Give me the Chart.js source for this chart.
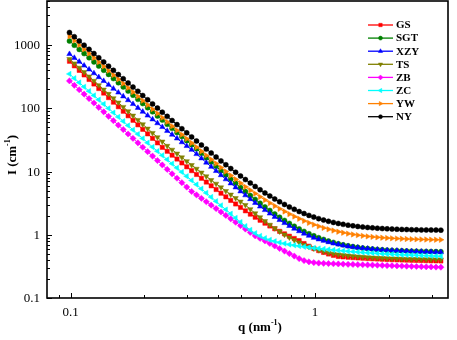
<!DOCTYPE html>
<html><head><meta charset="utf-8">
<script src="https://cdn.jsdelivr.net/npm/chart.js@4.4.1/dist/chart.umd.min.js"></script>
<style>html,body{margin:0;padding:0;background:#fff}#wrap{width:457px;height:340px;position:relative}</style>
</head><body><div id="wrap"><canvas id="c" width="457" height="340"></canvas></div>
<script>
// q (nm^-1)
const q = [0.09886,0.1035,0.1084,0.1135,0.1189,0.1245,0.1303,0.1365,0.1429,0.1496,0.1567,0.1641,0.1718,0.1799,0.1884,0.1972,0.2065,0.2163,0.2265,0.2371,0.2483,0.2600,0.2723,0.2851,0.2985,0.3126,0.3273,0.3428,0.3589,0.3758,0.3936,0.4121,0.4315,0.4519,0.4732,0.4955,0.5188,0.5433,0.5689,0.5957,0.6237,0.6531,0.6839,0.7161,0.7499,0.7852,0.8222,0.8610,0.9016,0.9441,0.9886,1.035,1.084,1.135,1.189,1.245,1.303,1.365,1.429,1.496,1.567,1.641,1.718,1.799,1.884,1.972,2.065,2.163,2.265,2.371,2.483,2.600,2.723,2.851,2.985,3.126,3.273];

const GS = [556.3,471.4,399.4,338.5,286.8,243.1,206.0,174.6,148.0,125.4,106.3,90.11,76.40,64.79,54.95,46.61,39.54,33.56,28.49,24.19,20.98,18.19,15.79,13.71,11.90,10.35,9.000,7.834,6.827,5.955,5.201,4.548,3.984,3.496,3.074,2.709,2.393,2.120,1.894,1.697,1.526,1.377,1.247,1.134,1.035,0.9494,0.8747,0.8095,0.7273,0.6604,0.6060,0.5619,0.5260,0.4968,0.4730,0.4538,0.4473,0.4413,0.4358,0.4307,0.4260,0.4216,0.4176,0.4140,0.4106,0.4074,0.4045,0.4018,0.3994,0.3971,0.3950,0.3931,0.3913,0.3896,0.3881,0.3867,0.3854];
const SGT = [1162,998.2,857.5,736.7,633.0,543.8,467.2,401.4,344.9,296.3,254.6,218.8,188.0,161.6,138.9,119.4,102.6,88.24,75.88,65.25,56.13,48.29,41.56,35.78,30.81,26.54,22.88,19.49,16.61,14.17,12.10,10.34,8.853,7.590,6.519,5.611,4.840,4.187,3.632,3.162,2.763,2.425,2.138,1.895,1.688,1.513,1.365,1.239,1.132,1.041,0.9645,0.8993,0.8440,0.7971,0.7573,0.7236,0.6950,0.6707,0.6501,0.6326,0.6178,0.6052,0.5946,0.5855,0.5779,0.5714,0.5658,0.5612,0.5572,0.5538,0.5510,0.5485,0.5465,0.5447,0.5433,0.5420,0.5409];
const XZY = [724.9,630.0,547.5,475.8,413.5,359.4,312.4,271.5,236.0,205.1,178.3,155.0,134.8,117.2,101.9,88.60,77.06,67.03,58.31,50.73,44.15,38.43,33.46,29.14,25.39,22.13,18.93,16.20,13.88,11.90,10.22,8.779,7.555,6.512,5.623,4.865,4.220,3.670,3.201,2.801,2.461,2.171,1.924,1.713,1.534,1.381,1.251,1.140,1.045,0.9645,0.8958,0.8463,0.8030,0.7651,0.7319,0.7029,0.6776,0.6554,0.6401,0.6263,0.6139,0.6027,0.5926,0.5835,0.5752,0.5697,0.5646,0.5599,0.5555,0.5514,0.5477,0.5442,0.5410,0.5380,0.5352,0.5326,0.5302];
const TS = [603.0,514.4,438.9,374.5,319.5,272.7,232.7,198.6,169.4,144.6,123.4,105.4,89.94,76.78,65.56,55.99,47.82,40.86,34.91,29.84,25.52,22.18,19.28,16.77,14.59,12.70,11.07,9.647,8.417,7.350,6.426,5.624,4.929,4.326,3.804,3.351,2.959,2.538,2.186,1.893,1.647,1.442,1.271,1.128,1.008,0.9080,0.8246,0.7548,0.6965,0.6477,0.6070,0.5730,0.5445,0.5208,0.5009,0.4889,0.4783,0.4690,0.4608,0.4536,0.4472,0.4416,0.4366,0.4323,0.4284,0.4251,0.4221,0.4195,0.4171,0.4151,0.4133,0.4117,0.4103,0.4091,0.4080,0.4071,0.4062];
const ZB = [272.3,231.7,197.2,167.9,142.9,121.6,103.5,88.10,74.99,63.83,54.33,46.24,39.36,33.50,28.51,24.27,20.65,17.58,14.96,12.74,10.84,9.226,7.852,6.683,5.689,4.842,4.276,3.776,3.334,2.944,2.600,2.296,2.028,1.791,1.581,1.396,1.233,1.089,0.9616,0.8770,0.7998,0.7295,0.6653,0.6067,0.5534,0.5047,0.4603,0.4198,0.3908,0.3733,0.3631,0.3573,0.3532,0.3508,0.3483,0.3459,0.3436,0.3412,0.3396,0.3373,0.3357,0.3334,0.3319,0.3296,0.3281,0.3258,0.3243,0.3221,0.3206,0.3184,0.3170,0.3148,0.3133,0.3119,0.3105,0.3083,0.3069];
const ZC = [350.8,299.9,256.4,219.3,187.5,160.3,137.1,117.2,100.2,85.70,73.28,62.66,53.58,45.81,39.17,33.50,28.64,24.49,21.04,18.07,15.52,13.34,11.46,9.840,8.453,7.261,6.237,5.358,4.603,3.954,3.396,2.917,2.506,2.153,1.849,1.589,1.371,1.194,1.059,0.9594,0.8851,0.8318,0.7889,0.7551,0.7261,0.7031,0.6823,0.6637,0.6471,0.6324,0.6194,0.6067,0.5957,0.5848,0.5754,0.5662,0.5572,0.5483,0.5408,0.5333,0.5260,0.5200,0.5140,0.5082,0.5023,0.4977,0.4932,0.4887,0.4842,0.4808,0.4775,0.4742,0.4710,0.4677,0.4645,0.4613,0.4581];
const YW = [1381,1181,1010,863.8,738.7,631.8,540.3,462.1,395.3,338.1,289.2,247.4,211.7,181.1,155.0,132.6,113.5,97.20,83.23,71.29,61.08,52.34,44.88,38.49,33.03,28.36,24.37,20.96,18.04,15.54,13.41,11.58,10.02,8.690,7.550,6.574,5.740,5.066,4.484,3.982,3.549,3.175,2.852,2.574,2.334,2.126,1.947,1.793,1.660,1.544,1.445,1.360,1.286,1.222,1.167,1.119,1.078,1.043,1.012,0.9860,0.9632,0.9436,0.9267,0.9120,0.8994,0.8885,0.8792,0.8711,0.8641,0.8580,0.8528,0.8483,0.8444,0.8411,0.8382,0.8357,0.8336];
const NY = [1586,1361,1167,1001,859.4,737.4,632.7,543.0,466.0,399.9,343.2,294.6,252.9,217.1,186.4,159.7,137.2,117.8,101.2,86.99,74.79,64.32,55.35,47.65,41.04,35.37,30.51,26.34,22.76,19.69,17.02,14.77,12.83,11.17,9.752,8.532,7.485,6.588,5.818,5.157,4.590,4.104,3.687,3.329,3.022,2.755,2.530,2.336,2.170,2.028,1.906,1.802,1.712,1.635,1.569,1.512,1.463,1.422,1.386,1.355,1.329,1.306,1.287,1.270,1.256,1.244,1.233,1.224,1.217,1.210,1.204,1.199,1.195,1.192,1.189,1.186,1.184];

const seriesNames = ['GS','SGT','XZY','TS','ZB','ZC','YW','NY'];
const seriesValues = [GS, SGT, XZY, TS, ZB, ZC, YW, NY];
const xTickLabels = [0.1, 1];
const yTickLabels = [0.1, 1, 10, 100, 1000];

// styles
const colors = ['#FF0000','#008000','#0000FF','#808000','#FF00FF','#00FFFF','#FF8000','#000000'];
const markers = [
  {style:'rect', rot:0, r:3.0},
  {style:'circle', rot:0, r:2.5},
  {style:'triangle', rot:0, r:3.1},
  {style:'triangle', rot:180, r:3.1},
  {style:'rectRot', rot:0, r:3.1},
  {style:'triangle', rot:-90, r:3.1},
  {style:'triangle', rot:90, r:3.1},
  {style:'circle', rot:0, r:2.5}
];
const serif = "'Liberation Serif','Times New Roman',serif";

const datasets = seriesNames.map((name, k) => ({
  label: name,
  data: q.map((x, i) => ({x: x, y: seriesValues[k][i]})),
  showLine: true,
  borderColor: colors[k],
  backgroundColor: colors[k],
  borderWidth: 1,
  pointStyle: markers[k].style,
  pointRotation: markers[k].rot,
  pointRadius: markers[k].r,
  pointBorderWidth: 0.5,
  pointBackgroundColor: colors[k],
  pointBorderColor: colors[k],
  order: 7 - k
}));

function fmt(v) {
  return v < 1 ? v.toFixed(1) : String(Math.round(v));
}

function drawMarker(ctx, m, x, y, color) {
  if (Chart.helpers && Chart.helpers.drawPoint) {
    ctx.fillStyle = color; ctx.strokeStyle = color; ctx.lineWidth = 0.5;
    Chart.helpers.drawPoint(ctx, {pointStyle: m.style, rotation: m.rot, radius: m.r * 0.8, borderWidth: 0.5}, x, y);
  } else {
    ctx.fillStyle = color;
    ctx.beginPath(); ctx.arc(x, y, 2, 0, Math.PI * 2); ctx.fill();
  }
}

const decor = {
  id: 'decor',
  afterDatasetsDraw(chart) {
    const {ctx, chartArea: a, scales} = chart;
    const xs = scales.x, ys = scales.y;
    ctx.save();
    // ticks (inward)
    ctx.strokeStyle = '#000';
    ctx.lineWidth = 1;
    const xMinor = [0.09, 0.2, 0.3, 0.4, 0.5, 0.6, 0.7, 0.8, 0.9, 2, 3];
    xTickLabels.forEach(v => { const p = Math.round(xs.getPixelForValue(v)) + 0.5; ctx.beginPath(); ctx.moveTo(p, a.bottom); ctx.lineTo(p, a.bottom - 5); ctx.stroke(); });
    xMinor.forEach(v => { const p = Math.round(xs.getPixelForValue(v)) + 0.5; ctx.beginPath(); ctx.moveTo(p, a.bottom); ctx.lineTo(p, a.bottom - 3); ctx.stroke(); });
    yTickLabels.forEach(v => { const p = Math.round(ys.getPixelForValue(v)) + 0.5; ctx.beginPath(); ctx.moveTo(a.left, p); ctx.lineTo(a.left + 5, p); ctx.stroke(); });
    yTickLabels.forEach(dec => {
      for (let m = 2; m <= 9; m++) {
        const v = dec * m;
        if (v > ys.max) break;
        const p = Math.round(ys.getPixelForValue(v)) + 0.5;
        ctx.beginPath(); ctx.moveTo(a.left, p); ctx.lineTo(a.left + 3, p); ctx.stroke();
      }
    });
    // frame
    ctx.lineWidth = 1.6;
    ctx.strokeRect(a.left, a.top, a.right - a.left, a.bottom - a.top);

    // tick labels
    ctx.fillStyle = '#000';
    ctx.font = "13px " + serif;
    ctx.textBaseline = 'middle';
    ctx.textAlign = 'center';
    xTickLabels.forEach(v => ctx.fillText(fmt(v), xs.getPixelForValue(v), a.bottom + 15));
    ctx.textAlign = 'right';
    yTickLabels.forEach(v => ctx.fillText(fmt(v), a.left - 7, ys.getPixelForValue(v) + 0.5));

    // legend
    const lx0 = 368, lx1 = 393, ly0 = 25, dy = 13.1;
    seriesNames.forEach((name, k) => {
      const yy = ly0 + k * dy;
      ctx.strokeStyle = colors[k]; ctx.lineWidth = 1.3;
      ctx.beginPath(); ctx.moveTo(lx0, yy); ctx.lineTo(lx1, yy); ctx.stroke();
      drawMarker(ctx, markers[k], (lx0 + lx1) / 2, yy, colors[k]);
      ctx.fillStyle = '#000';
      ctx.font = "bold 11px " + serif;
      ctx.textAlign = 'left'; ctx.textBaseline = 'middle';
      ctx.fillText(name, 396, yy + 0.5);
    });

    // axis titles with superscripts
    function titleWithSup(pre, sup, post, cx, cy, rotate) {
      ctx.save();
      ctx.translate(cx, cy);
      if (rotate) ctx.rotate(-Math.PI / 2);
      const big = "bold 13px " + serif, small = "bold 8px " + serif;
      ctx.font = big; const w1 = ctx.measureText(pre).width; const w3 = ctx.measureText(post).width;
      ctx.font = small; const w2 = ctx.measureText(sup).width;
      let x = -(w1 + w2 + w3) / 2;
      ctx.fillStyle = '#000'; ctx.textBaseline = 'alphabetic'; ctx.textAlign = 'left';
      ctx.font = big; ctx.fillText(pre, x, 4.5); x += w1;
      ctx.font = small; ctx.fillText(sup, x, -1.5); x += w2;
      ctx.font = big; ctx.fillText(post, x, 4.5);
      ctx.restore();
    }
    titleWithSup('I (cm', '-1', ')', 11, 155, true);
    titleWithSup('q (nm', '-1', ')', 260, 326, false);
    ctx.restore();
  }
};

new Chart(document.getElementById('c'), {
  type: 'scatter',
  data: { datasets },
  options: {
    responsive: false,
    animation: false,
    devicePixelRatio: 1,
    layout: { autoPadding: false, padding: { top: 1, right: 9, left: 0, bottom: 0 } },
    plugins: { legend: { display: false }, tooltip: { enabled: false } },
    scales: {
      x: {
        type: 'logarithmic', min: 0.08, max: 3.5,
        grid: { display: false, drawTicks: false },
        border: { display: false },
        ticks: { display: false },
        afterFit: (s) => { s.height = 42; }
      },
      y: {
        type: 'logarithmic', min: 0.1, max: 5000,
        grid: { display: false, drawTicks: false },
        border: { display: false },
        ticks: { display: false },
        afterFit: (s) => { s.width = 47; }
      }
    }
  },
  plugins: [decor]
});
</script>
</body></html>
